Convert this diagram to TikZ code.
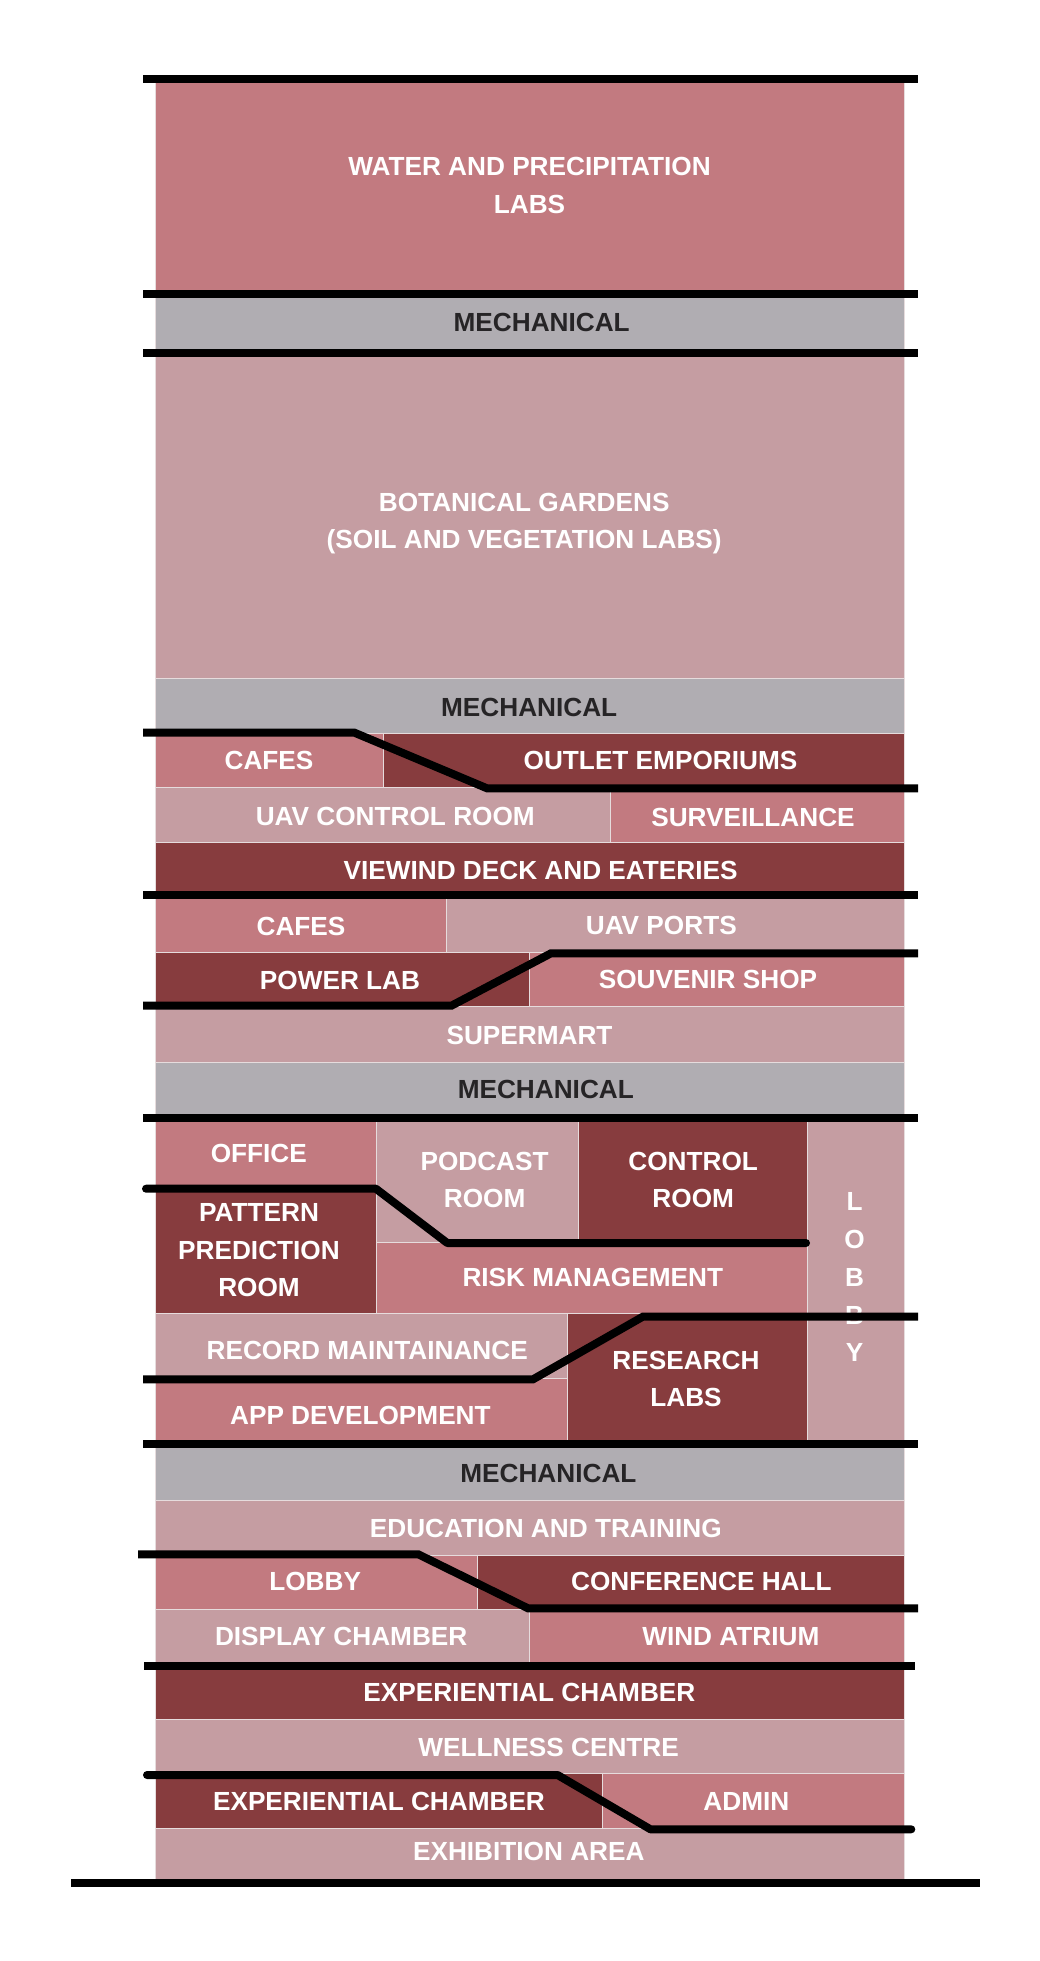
\documentclass[tikz,border=0pt]{standalone}
\usepackage{fontspec}
\setmainfont{Liberation Sans}
\definecolor{med}{HTML}{C27A80}
\definecolor{lite}{HTML}{C59DA2}
\definecolor{dark}{HTML}{873C3E}
\definecolor{mech}{HTML}{B0ADB2}
\definecolor{mechtext}{HTML}{262426}
\definecolor{sepline}{HTML}{E6DCDD}
\tikzset{
  cell/.style={draw=sepline, line width=0.8pt},
  lbl/.style={text=white, font=\bfseries\fontsize{26.2}{37.5}\selectfont, align=center, inner sep=0pt},
  mlbl/.style={lbl, text=mechtext},
  wall/.style={line width=8pt, draw=black},
  rwall/.style={wall, line cap=round, line join=round}
}
\begin{document}
\begin{tikzpicture}[x=1pt,y=-1pt]
\useasboundingbox (0,0) rectangle (1040,1961);
\fill[white] (0,0) rectangle (1040,1961);

% ---- cells ----
\path[cell, fill=med]  (155,82) rectangle (904,291);
\path[cell, fill=mech] (155,291) rectangle (904,350);
\path[cell, fill=lite] (155,350) rectangle (904,678.3);
\path[cell, fill=mech] (155,678.3) rectangle (904,733.3);
\path[cell, fill=med]  (155,733.3) rectangle (383.6,787.7);
\path[cell, fill=dark] (383.6,733.3) rectangle (904,787.7);
\path[cell, fill=lite] (155,787.7) rectangle (610.6,842.7);
\path[cell, fill=med]  (610.6,787.7) rectangle (904,842.7);
\path[cell, fill=dark] (155,842.7) rectangle (904,895);
\path[cell, fill=med]  (155,895) rectangle (446.3,952.3);
\path[cell, fill=lite] (446.3,895) rectangle (904,952.3);
\path[cell, fill=dark] (155,952.3) rectangle (529,1006.7);
\path[cell, fill=med]  (529,952.3) rectangle (904,1006.7);
\path[cell, fill=lite] (155,1006.7) rectangle (904,1062.3);
\path[cell, fill=mech] (155,1062.3) rectangle (904,1118);
\path[cell, fill=med]  (155,1118) rectangle (375.9,1189);
\path[cell, fill=dark] (155,1189) rectangle (375.9,1313.3);
\path[cell, fill=lite] (375.9,1118) rectangle (578,1242.7);
\path[cell, fill=dark] (578,1118) rectangle (807.6,1242.7);
\path[cell, fill=med]  (375.9,1242.7) rectangle (807.6,1313.3);
\path[cell, fill=lite] (807.6,1118) rectangle (904,1444);
\path[cell, fill=lite] (155,1313.3) rectangle (567.2,1378.3);
\path[cell, fill=med]  (155,1378.3) rectangle (567.2,1444);
\path[cell, fill=dark] (567.2,1313.3) rectangle (807.6,1444);
\path[cell, fill=mech] (155,1444) rectangle (904,1500.7);
\path[cell, fill=lite] (155,1500.7) rectangle (904,1555);
\path[cell, fill=med]  (155,1555) rectangle (477,1609.3);
\path[cell, fill=dark] (477,1555) rectangle (904,1609.3);
\path[cell, fill=lite] (155,1609.3) rectangle (529.5,1666);
\path[cell, fill=med]  (529.5,1609.3) rectangle (904,1666);
\path[cell, fill=dark] (155,1666) rectangle (904,1719.3);
\path[cell, fill=lite] (155,1719.3) rectangle (904,1773.3);
\path[cell, fill=dark] (155,1773.3) rectangle (602.6,1828.3);
\path[cell, fill=med]  (602.6,1773.3) rectangle (904,1828.3);
\path[cell, fill=lite] (155,1828.3) rectangle (904,1880);

% ---- labels ----
\node[lbl]  (water)   at (529.5,185.7) {WATER AND PRECIPITATION\\LABS};
\node[mlbl] (mech1)   at (541.7,322.3) {MECHANICAL};
\node[lbl]  (botan)   at (524.2,523.8) {BOTANICAL GARDENS\\(SOIL AND VEGETATION LABS)};
\node[mlbl] (mech2)   at (529.2,707.3) {MECHANICAL};
\node[lbl]  (cafes1)  at (269,760.7) {CAFES};
\node[lbl]  (outlet)  at (660.5,760.7) {OUTLET EMPORIUMS};
\node[lbl]  (uavctl)  at (395.3,816) {UAV CONTROL ROOM};
\node[lbl]  (surv)    at (753,817.3) {SURVEILLANCE};
\node[lbl]  (viewind) at (540.6,870) {VIEWIND DECK AND EATERIES};
\node[lbl]  (cafes2)  at (301,926.7) {CAFES};
\node[lbl]  (uavport) at (661.3,925.7) {UAV PORTS};
\node[lbl]  (power)   at (340,980) {POWER LAB};
\node[lbl]  (souv)    at (708,979.3) {SOUVENIR SHOP};
\node[lbl]  (superm)  at (529.5,1035) {SUPERMART};
\node[mlbl] (mech3)   at (545.8,1089.3) {MECHANICAL};
\node[lbl]  (office)  at (258.8,1153.3) {OFFICE};
\node[lbl]  (podcast) at (484.6,1180.2) {PODCAST\\ROOM};
\node[lbl]  (control) at (693.2,1180.2) {CONTROL\\ROOM};
\node[lbl]  (pattern) at (259,1250.5) {PATTERN\\PREDICTION\\ROOM};
\node[lbl]  (risk)    at (592.8,1277.7) {RISK MANAGEMENT};
\node[lbl]  (lobL)    at (854.5,1201.7) {L};
\node[lbl]  (lobO)    at (854.5,1239.5) {O};
\node[lbl]  (lobB1)   at (854.5,1277.3) {B};
\node[lbl]  (lobB2)   at (854.5,1315) {B};
\node[lbl]  (lobY)    at (854.5,1352.3) {Y};
\node[lbl]  (record)  at (367.2,1350.7) {RECORD MAINTAINANCE};
\node[lbl]  (app)     at (360.4,1415.7) {APP DEVELOPMENT};
\node[lbl]  (research) at (686,1379.2) {RESEARCH\\LABS};
\node[mlbl] (mech4)   at (548.4,1473.3) {MECHANICAL};
\node[lbl]  (educ)    at (545.8,1528.3) {EDUCATION AND TRAINING};
\node[lbl]  (lobby2)  at (315.2,1581.7) {LOBBY};
\node[lbl]  (conf)    at (701.4,1581.7) {CONFERENCE HALL};
\node[lbl]  (display) at (341.2,1636.7) {DISPLAY CHAMBER};
\node[lbl]  (wind)    at (730.8,1636.7) {WIND ATRIUM};
\node[lbl]  (exper1)  at (529.4,1692.3) {EXPERIENTIAL CHAMBER};
\node[lbl]  (well)    at (548.6,1747.3) {WELLNESS CENTRE};
\node[lbl]  (exper2)  at (379,1801.7) {EXPERIENTIAL CHAMBER};
\node[lbl]  (admin)   at (746.4,1801.7) {ADMIN};
\node[lbl]  (exhib)   at (528.8,1851) {EXHIBITION AREA};

% ---- floor lines ----
\draw[wall] (143,79) -- (918,79);
\draw[wall] (143,294) -- (918,294);
\draw[wall] (143,353) -- (918,353);
\draw[wall] (143,732.7) -- (354.5,732.7) -- (487,788.3) -- (918,788.3);
\draw[wall] (143,895) -- (918,895);
\draw[wall] (143,1005.7) -- (451.4,1005.7) -- (551,953.3) -- (918,953.3);
\draw[wall] (143,1118) -- (918,1118);
\draw[rwall] (146,1188.7) -- (375.9,1188.7) -- (447.3,1243) -- (806,1243);
\draw[wall] (143,1379.3) -- (533,1379.3) -- (642.8,1316.7) -- (918,1316.7);
\draw[wall] (143,1444) -- (918,1444);
\draw[wall] (138,1554.3) -- (418.3,1554.3) -- (528,1608.3) -- (918,1608.3);
\draw[wall] (144.3,1666) -- (914.5,1666);
\draw[rwall] (147,1775) -- (557.6,1775) -- (650.5,1829.3) -- (911.3,1829.3);
\draw[wall] (71,1883.3) -- (980,1883.3);
\end{tikzpicture}
\end{document}
